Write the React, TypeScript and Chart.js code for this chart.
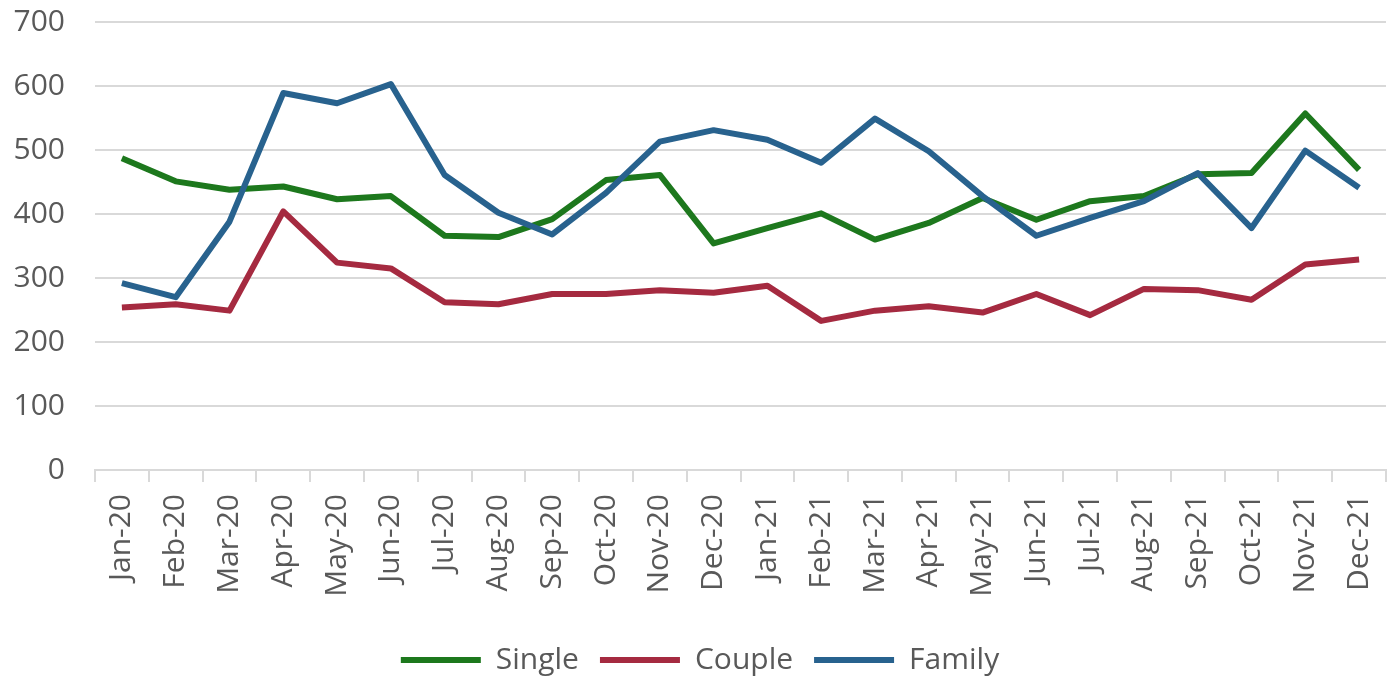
import React, { useEffect, useRef } from "react";
import { Chart, registerables } from "chart.js";

Chart.register(...registerables);

const categories = [
  "Jan-20", "Feb-20", "Mar-20", "Apr-20", "May-20", "Jun-20",
  "Jul-20", "Aug-20", "Sep-20", "Oct-20", "Nov-20", "Dec-20",
  "Jan-21", "Feb-21", "Mar-21", "Apr-21", "May-21", "Jun-21",
  "Jul-21", "Aug-21", "Sep-21", "Oct-21", "Nov-21", "Dec-21",
];

const single = [487, 451, 438, 443, 423, 428, 366, 364, 392, 453, 461, 354, 378, 401, 360, 386, 425, 391, 420, 428, 462, 464, 557, 469];
const couple = [254, 259, 249, 404, 324, 315, 262, 259, 275, 275, 281, 277, 288, 233, 249, 256, 246, 275, 242, 283, 281, 266, 321, 329];
const family = [292, 270, 388, 589, 573, 603, 461, 402, 368, 433, 513, 531, 516, 480, 549, 498, 428, 366, 394, 420, 464, 378, 499, 441];

const seriesNames = ["Single", "Couple", "Family"];
const seriesColors = ["#1d781d", "#a52a40", "#28628e"];

const yMin = 0;
const yMax = 700;
const yStep = 100;

const FONT = "'Open Sans', sans-serif";
const TEXT = "#595959";
const GRID = "#d9d9d9";

export default function App() {
  const ref = useRef<HTMLCanvasElement | null>(null);

  useEffect(() => {
    document.body.style.margin = "0";
    const canvas = ref.current;
    if (!canvas) return;
    const values = [single, couple, family];
    const chart = new Chart(canvas, {
      type: "line",
      data: {
        labels: categories,
        datasets: values.map((d, i) => ({
          label: seriesNames[i],
          data: d,
          borderColor: seriesColors[i],
          backgroundColor: seriesColors[i],
          borderWidth: 6,
          pointRadius: 0,
          pointHoverRadius: 0,
          tension: 0,
          fill: false,
          borderJoinStyle: "round" as const,
          borderCapStyle: "butt" as const,
          order: 3 - i,
        })),
      },
      options: {
        responsive: false,
        animation: false,
        layout: { padding: { left: 14, right: 6, top: 22, bottom: -6 } },
        plugins: {
          tooltip: { enabled: false },
          legend: {
            position: "bottom",
            labels: {
              boxWidth: 80,
              boxHeight: 6,
              padding: 21,
              color: TEXT,
              font: { family: FONT, size: 30 },
              sort: (a: any, b: any) => a.datasetIndex - b.datasetIndex,
              generateLabels: (c: any) =>
                Chart.defaults.plugins.legend.labels
                  .generateLabels(c)
                  .map((l: any) => ({ ...l, lineWidth: 0, fillStyle: l.strokeStyle })),
            },
          },
        },
        scales: {
          x: {
            type: "category",
            offset: true,
            grid: {
              offset: true,
              drawOnChartArea: false,
              drawTicks: true,
              tickLength: 12,
              color: GRID,
              lineWidth: 2,
            },
            border: { display: true, color: GRID, width: 2 },
            ticks: {
              autoSkip: false,
              minRotation: 90,
              maxRotation: 90,
              padding: 12,
              color: TEXT,
              font: { family: FONT, size: 30 },
            },
            afterFit: (s: any) => {
              s.height = 154;
              s.paddingLeft = 0;
              s.paddingRight = 0;
            },
          },
          y: {
            min: yMin,
            max: yMax,
            grid: { color: GRID, lineWidth: 2, drawTicks: false },
            border: { display: false },
            ticks: {
              stepSize: yStep,
              padding: 30,
              color: TEXT,
              font: { family: FONT, size: 30 },
            },
            afterFit: (s: any) => {
              s.width = 81;
              s.paddingTop = 0;
              s.paddingBottom = 0;
            },
          },
        },
      },
    });
    return () => chart.destroy();
  }, []);

  return (
    <div style={{ width: 1392, height: 679 }}>
      <canvas ref={ref} width={1392} height={679} />
    </div>
  );
}
